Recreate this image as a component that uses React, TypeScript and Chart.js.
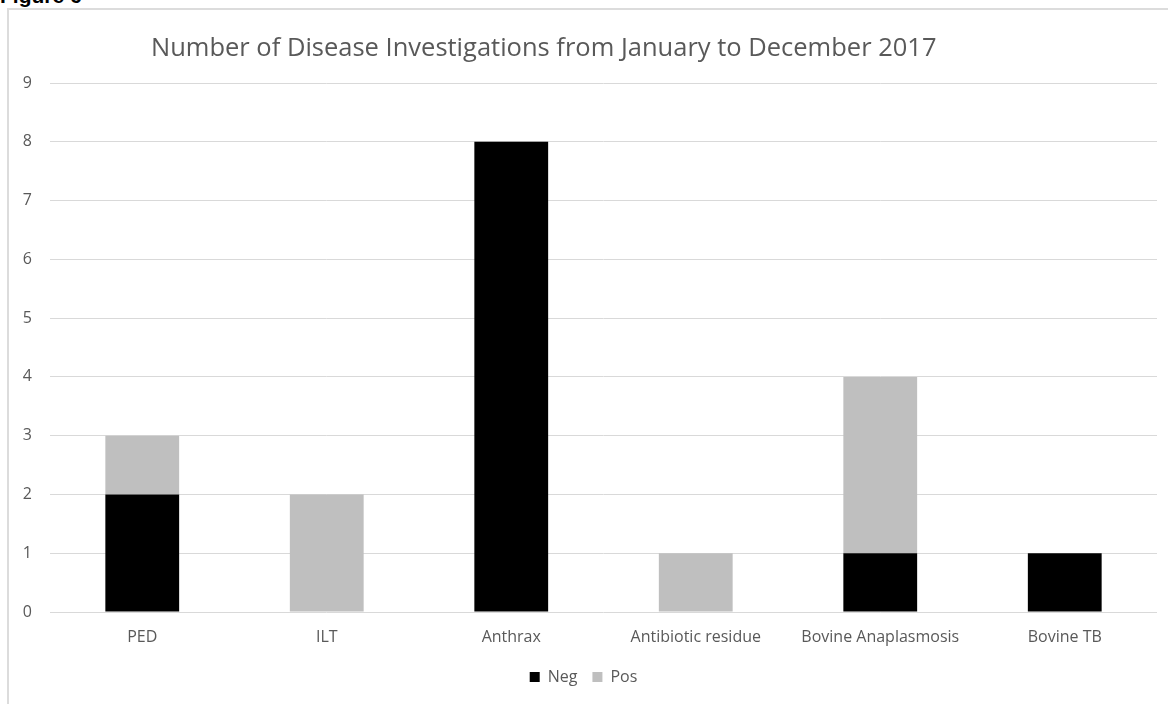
import React, { useEffect, useRef } from "react";
import { Chart, registerables } from "chart.js";

Chart.register(...registerables);

const chartTitle = "Number of Disease Investigations from January to December 2017";
const figureLabel = "Figure 6";
const categories = ["PED", "ILT", "Anthrax", "Antibiotic residue", "Bovine Anaplasmosis", "Bovine TB"];
const negValues = [2, 0, 8, 0, 1, 1];
const posValues = [1, 2, 0, 1, 3, 0];
const seriesNames = ["Neg", "Pos"];
const seriesColors = ["#000000", "#bfbfbf"];
const yMin = 0;
const yMax = 9;
const yStep = 1;

const FONT = "'Open Sans', 'Noto Sans', sans-serif";
const TEXT_COLOR = "#595959";

const titlePlugin = {
  id: "customTitle",
  afterDraw(chart: any) {
    const { ctx, chartArea } = chart;
    ctx.save();
    ctx.font = `25.5px ${FONT}`;
    ctx.fillStyle = TEXT_COLOR;
    ctx.textAlign = "center";
    ctx.textBaseline = "middle";
    const cx = chartArea.left + (chartArea.right - chartArea.left) * 0.446;
    ctx.fillText(chartTitle, cx, chartArea.top - 34);
    ctx.restore();
  },
};

export default function App() {
  const canvasRef = useRef<HTMLCanvasElement | null>(null);

  useEffect(() => {
    document.body.style.margin = "0";
    const canvas = canvasRef.current;
    if (!canvas) return;
    const chart = new Chart(canvas, {
      type: "bar",
      data: {
        labels: categories,
        datasets: [
          {
            label: seriesNames[0],
            data: negValues.map((v) => (v === 0 ? null : v)),
            backgroundColor: seriesColors[0],
            borderWidth: 0,
            barPercentage: 0.4,
            categoryPercentage: 1,
          },
          {
            label: seriesNames[1],
            data: posValues.map((v) => (v === 0 ? null : v)),
            backgroundColor: seriesColors[1],
            borderWidth: 0,
            barPercentage: 0.4,
            categoryPercentage: 1,
          },
        ],
      },
      options: {
        responsive: false,
        animation: false,
        devicePixelRatio: 1,
        layout: { padding: { left: 10, right: 11, top: 83, bottom: 9 } },
        plugins: {
          title: { display: false },
          tooltip: { enabled: false },
          legend: {
            position: "bottom",
            labels: {
              boxWidth: 10,
              boxHeight: 10,
              padding: 15,
              color: TEXT_COLOR,
              font: { family: FONT, size: 16 },
            },
          },
        },
        scales: {
          x: {
            stacked: true,
            afterFit(scale: any) {
              scale.height = 42;
            },
            grid: { display: false, drawTicks: false },
            border: { display: false },
            ticks: {
              color: TEXT_COLOR,
              font: { family: FONT, size: 16 },
              padding: 16,
              maxRotation: 0,
              autoSkip: false,
            },
          },
          y: {
            stacked: true,
            min: yMin,
            max: yMax,
            afterFit(scale: any) {
              scale.width = 40;
            },
            grid: { color: "#d9d9d9", lineWidth: 1, drawTicks: false },
            border: { display: false },
            ticks: {
              stepSize: yStep,
              color: TEXT_COLOR,
              font: { family: FONT, size: 16 },
              padding: 18,
            },
          },
        },
      },
      plugins: [titlePlugin],
    });
    return () => chart.destroy();
  }, []);

  return (
    <div
      style={{
        position: "fixed",
        left: 0,
        top: 0,
        width: 1168,
        height: 704,
        overflow: "hidden",
        background: "#ffffff",
      }}
    >
      <div
        style={{
          position: "absolute",
          left: 0,
          top: -16,
          font: "bold 21px 'Liberation Sans', Arial, sans-serif",
          lineHeight: "24px",
          color: "#000",
          whiteSpace: "nowrap",
        }}
      >
        {figureLabel}
      </div>
      <div
        style={{
          position: "absolute",
          left: 7,
          top: 8,
          width: 1200,
          height: 760,
          border: "2px solid #dcdcdc",
        }}
      />
      <canvas
        ref={canvasRef}
        width={1168}
        height={704}
        style={{ position: "absolute", left: 0, top: 0, width: 1168, height: 704 }}
      />
    </div>
  );
}
